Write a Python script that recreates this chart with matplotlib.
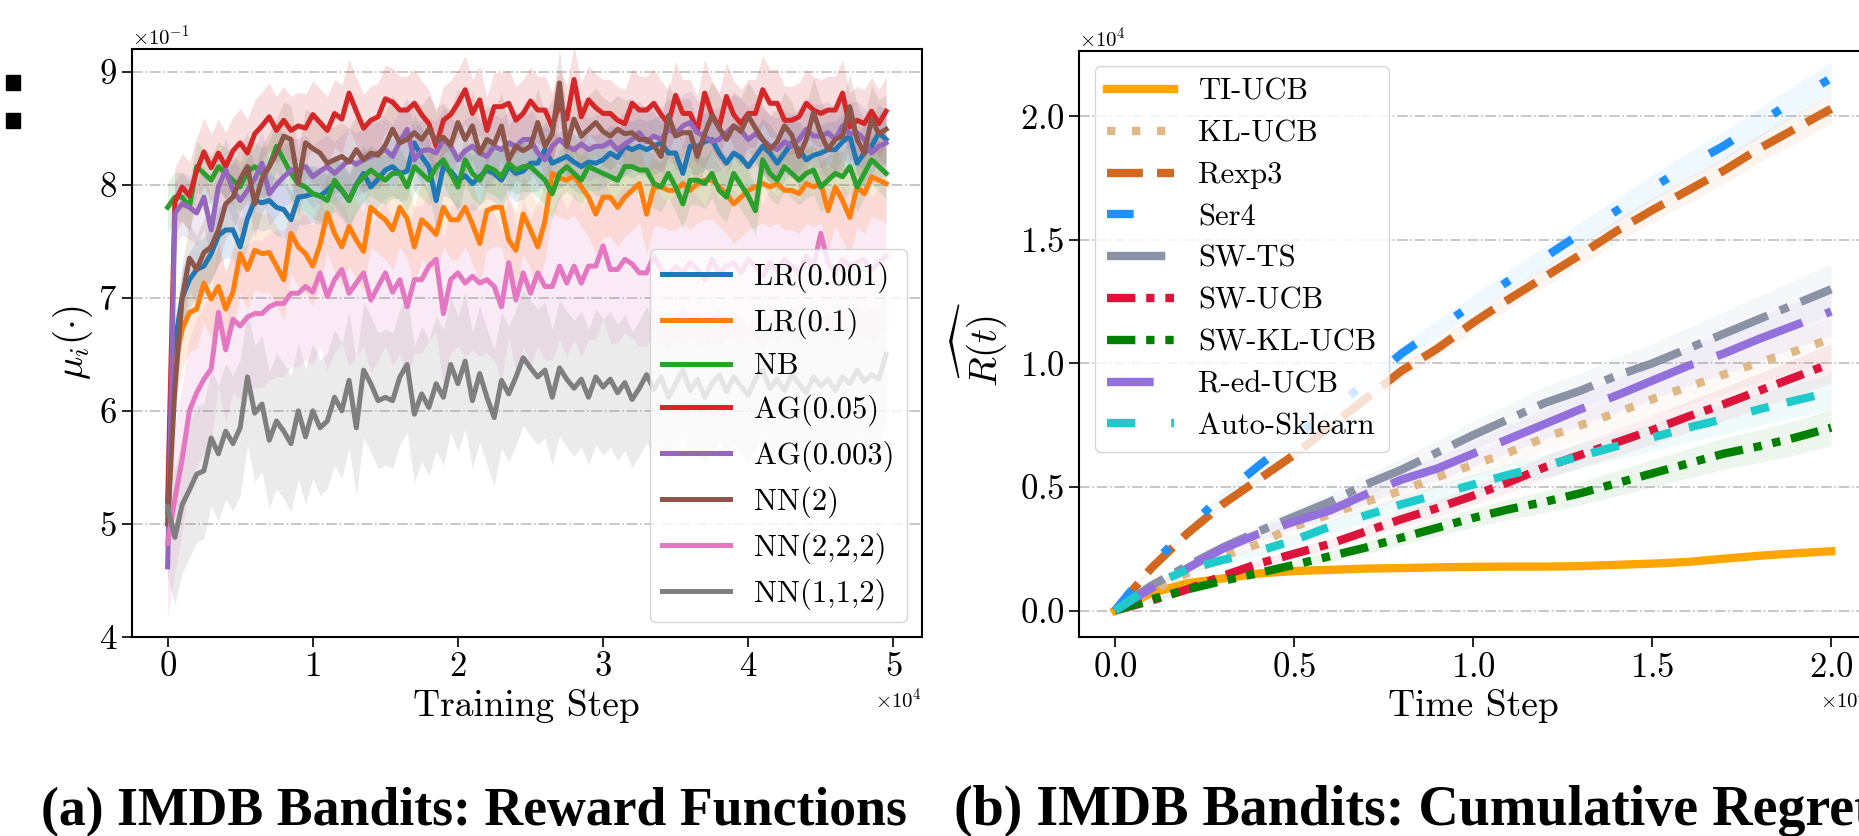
import matplotlib
matplotlib.use("Agg")
import matplotlib.pyplot as plt
from matplotlib.patches import Rectangle
import numpy as np

plt.rcParams["font.family"] = "serif"
plt.rcParams["font.serif"] = ["cmr10", "DejaVu Serif"]
plt.rcParams["mathtext.fontset"] = "cm"
plt.rcParams["axes.formatter.use_mathtext"] = True
plt.rcParams["axes.unicode_minus"] = False

# ---------------- (a) reward functions ----------------
train_steps = list(range(0, 50000, 500))

# mean reward per model, in units of 1e-3
lr_001 = [510, 660, 700, 716, 725, 728, 739, 755, 760, 760, 745, 770, 786, 784, 786, 780, 778, 769, 789, 790,
          792, 790, 795, 801, 795, 786, 800, 810, 798, 805, 813, 816, 810, 812, 837, 825, 816, 786, 816, 812,
          804, 808, 801, 807, 813, 810, 804, 816, 810, 812, 819, 819, 831, 819, 822, 825, 820, 816, 820, 819,
          822, 828, 824, 834, 831, 834, 831, 834, 837, 828, 828, 810, 834, 834, 838, 840, 828, 819, 828, 824,
          816, 825, 834, 828, 819, 828, 837, 831, 822, 826, 828, 831, 831, 838, 843, 819, 828, 834, 846, 840]
lr_01 = [500, 640, 672, 687, 690, 713, 699, 710, 690, 705, 739, 725, 742, 739, 740, 728, 716, 757, 745, 739,
         728, 747, 775, 757, 745, 763, 751, 741, 780, 774, 769, 760, 780, 770, 745, 769, 763, 756, 780, 769,
         769, 780, 765, 748, 777, 780, 780, 751, 742, 774, 760, 745, 768, 810, 806, 804, 808, 798, 789, 774,
         789, 789, 780, 789, 795, 801, 774, 798, 798, 795, 795, 801, 795, 801, 804, 804, 798, 792, 783, 789,
         795, 798, 801, 798, 801, 795, 795, 792, 801, 798, 801, 777, 798, 786, 771, 798, 792, 807, 804, 801]
nb = [780, 789, 789, 780, 816, 810, 804, 816, 810, 804, 798, 812, 816, 810, 816, 834, 822, 810, 801, 798,
      792, 790, 786, 804, 795, 786, 800, 807, 813, 808, 804, 810, 810, 798, 816, 810, 804, 816, 822, 810,
      798, 822, 810, 804, 816, 813, 807, 819, 813, 816, 816, 810, 804, 792, 810, 816, 810, 804, 816, 813,
      810, 807, 804, 816, 816, 813, 813, 801, 798, 810, 798, 783, 804, 804, 801, 810, 795, 789, 810, 800,
      790, 777, 822, 810, 804, 816, 810, 804, 810, 813, 798, 804, 810, 807, 816, 798, 810, 822, 816, 810]
ag_005 = [520, 785, 798, 790, 812, 829, 815, 828, 816, 830, 837, 828, 845, 852, 860, 848, 857, 848, 852, 850,
          862, 855, 848, 863, 858, 881, 865, 850, 857, 860, 876, 873, 866, 866, 872, 862, 854, 834, 857, 862,
          872, 884, 863, 875, 848, 869, 869, 872, 857, 863, 874, 866, 866, 851, 872, 858, 893, 860, 875, 868,
          863, 863, 857, 854, 872, 866, 866, 872, 862, 854, 879, 863, 863, 848, 881, 862, 851, 878, 862, 854,
          863, 863, 884, 872, 872, 857, 857, 860, 872, 866, 863, 866, 866, 881, 851, 857, 854, 865, 854, 865]
ag_0003 = [462, 775, 783, 780, 775, 789, 760, 798, 813, 795, 786, 795, 805, 819, 792, 800, 807, 813, 813, 816,
           807, 812, 816, 810, 816, 822, 818, 822, 825, 828, 831, 825, 838, 849, 822, 830, 831, 828, 840, 834,
           822, 830, 834, 828, 825, 834, 831, 837, 834, 840, 840, 828, 822, 834, 840, 834, 831, 836, 831, 834,
           834, 838, 831, 836, 840, 846, 838, 843, 840, 849, 845, 852, 855, 846, 843, 838, 840, 846, 852, 848,
           840, 845, 840, 834, 831, 838, 834, 840, 849, 843, 843, 846, 840, 852, 845, 846, 840, 828, 834, 837]
nn_2 = [500, 620, 700, 735, 725, 740, 745, 760, 783, 789, 805, 816, 783, 805, 816, 828, 843, 840, 801, 837,
        832, 828, 819, 822, 825, 820, 831, 822, 828, 826, 835, 849, 837, 840, 846, 840, 849, 838, 842, 835,
        855, 840, 852, 828, 840, 836, 852, 822, 834, 830, 834, 855, 834, 845, 890, 834, 858, 843, 849, 855,
        847, 843, 849, 845, 846, 840, 840, 835, 825, 861, 843, 846, 846, 825, 845, 861, 850, 840, 852, 847,
        861, 850, 840, 831, 838, 852, 844, 825, 840, 864, 845, 831, 840, 843, 869, 840, 828, 858, 845, 849]
nn_222 = [483, 522, 557, 600, 616, 628, 637, 687, 654, 681, 675, 683, 686, 686, 692, 695, 695, 704, 704, 710,
          705, 722, 701, 716, 725, 704, 713, 722, 698, 710, 722, 705, 716, 692, 716, 716, 728, 734, 686, 716,
          722, 713, 719, 713, 716, 710, 692, 731, 698, 722, 704, 722, 710, 710, 728, 713, 728, 713, 728, 728,
          746, 725, 725, 734, 730, 722, 722, 737, 725, 719, 728, 722, 731, 725, 716, 734, 722, 728, 731, 722,
          734, 728, 719, 731, 725, 734, 728, 722, 737, 728, 757, 731, 722, 734, 728, 731, 734, 725, 731, 737]
nn_112 = [515, 488, 517, 530, 544, 547, 576, 562, 582, 571, 585, 630, 598, 606, 574, 591, 582, 571, 600, 577,
          600, 585, 591, 612, 600, 627, 585, 636, 624, 609, 612, 609, 630, 641, 597, 615, 603, 624, 612, 641,
          624, 644, 609, 633, 612, 594, 627, 615, 630, 647, 638, 630, 636, 612, 638, 628, 620, 628, 612, 630,
          621, 628, 616, 625, 610, 620, 632, 619, 630, 612, 624, 636, 618, 628, 612, 624, 632, 617, 630, 622,
          614, 628, 636, 620, 628, 618, 632, 624, 616, 630, 622, 628, 618, 630, 624, 636, 626, 632, 628, 650]

reward_labels = ["LR(0.001)", "LR(0.1)", "NB", "AG(0.05)", "AG(0.003)", "NN(2)", "NN(2,2,2)", "NN(1,1,2)"]
reward_series = [lr_001, lr_01, nb, ag_005, ag_0003, nn_2, nn_222, nn_112]
reward_std = [25, 35, 22, 30, 28, 30, 65, 60]
reward_colors = ["tab:blue", "tab:orange", "tab:green", "tab:red",
                 "tab:purple", "tab:brown", "tab:pink", "tab:gray"]

# ---------------- (b) cumulative regret ----------------
time_steps = list(range(0, 20001, 1000))

# cumulative regret, in units of 1e4
ti_ucb = [0, 0.07, 0.11, 0.13, 0.15, 0.16, 0.165, 0.17, 0.172, 0.175, 0.177, 0.178, 0.178, 0.18, 0.185,
          0.19, 0.197, 0.21, 0.222, 0.232, 0.24]
kl_ucb = [0, 0.08, 0.15, 0.22, 0.27, 0.34, 0.39, 0.44, 0.485, 0.54, 0.59, 0.64, 0.70, 0.75, 0.80,
          0.855, 0.905, 0.955, 1.005, 1.05, 1.10]
rexp3 = [0, 0.17, 0.31, 0.43, 0.53, 0.63, 0.745, 0.857, 0.97, 1.06, 1.165, 1.26, 1.35, 1.44, 1.535,
         1.62, 1.70, 1.78, 1.87, 1.95, 2.03]
ser4 = [0, 0.18, 0.33, 0.466, 0.585, 0.70, 0.81, 0.92, 1.04, 1.14, 1.24, 1.335, 1.43, 1.525, 1.617,
        1.71, 1.80, 1.88, 1.975, 2.065, 2.155]
sw_ts = [0, 0.10, 0.18, 0.255, 0.32, 0.38, 0.44, 0.51, 0.57, 0.64, 0.71, 0.775, 0.84, 0.89, 0.95,
         1.00, 1.06, 1.12, 1.18, 1.24, 1.30]
sw_ucb = [0, 0.04, 0.085, 0.14, 0.19, 0.23, 0.27, 0.32, 0.37, 0.415, 0.465, 0.52, 0.58, 0.63, 0.68,
          0.73, 0.785, 0.835, 0.89, 0.945, 1.0]
sw_kl_ucb = [0, 0.045, 0.085, 0.12, 0.152, 0.185, 0.22, 0.255, 0.295, 0.335, 0.375, 0.41, 0.44, 0.475,
             0.515, 0.555, 0.595, 0.635, 0.665, 0.70, 0.74]
red_ucb = [0, 0.09, 0.17, 0.25, 0.31, 0.36, 0.405, 0.47, 0.53, 0.575, 0.635, 0.695, 0.755, 0.815, 0.87,
           0.93, 0.99, 1.04, 1.10, 1.155, 1.21]
auto_sklearn = [0, 0.10, 0.165, 0.205, 0.24, 0.285, 0.34, 0.385, 0.43, 0.47, 0.51, 0.55, 0.585, 0.625,
                0.665, 0.70, 0.74, 0.775, 0.815, 0.85, 0.885]

regret_labels = ["TI-UCB", "KL-UCB", "Rexp3", "Ser4", "SW-TS", "SW-UCB", "SW-KL-UCB", "R-ed-UCB", "Auto-Sklearn"]
regret_series = [ti_ucb, kl_ucb, rexp3, ser4, sw_ts, sw_ucb, sw_kl_ucb, red_ucb, auto_sklearn]
regret_colors = ["#FFA500", "#DEB887", "#D2691E", "#1E90FF", "#8A92A6",
                 "#DC143C", "#008000", "#9370DB", "#1FCACA"]
regret_styles = ["-", (0, (1, 2)), (0, (4.3, 1.7)), (0, (3.2, 5.8, 1, 5.8, 1, 5.8)),
                 (0, (7, 1.6, 1.1, 1.6)), (0, (3.4, 1.3, 1, 1.3)),
                 (0, (3.4, 1.3, 1, 1.3, 1, 1.3)), (5.4, (11, 3)), (0, (3.4, 4.3, 2.2, 2.2))]
regret_band = [0.03, 0.08, 0.03, 0.03, 0.08, 0.08, 0.1, 0.08, 0.08]

W, H = 1859, 836
fig = plt.figure(figsize=(W / 100, H / 100), dpi=100)

# panel (a)
ax1 = fig.add_axes([131.7 / W, 199 / H, (922 - 131.7) / W, (637 - 49) / H])
x1 = np.array(train_steps)
for vals, sd, col, lab in zip(reward_series, reward_std, reward_colors, reward_labels):
    m = np.array(vals) / 1000
    ax1.fill_between(x1, m - sd / 1000, m + sd / 1000, color=col, alpha=0.15, lw=0)
    ax1.plot(x1, m, color=col, lw=3.6, label=lab)
ax1.set_ylim(0.4, 0.92)
ax1.ticklabel_format(style="sci", axis="both", scilimits=(0, 0), useMathText=True)
ax1.grid(axis="y", linestyle="-.", color="gray", alpha=0.5, lw=1.2)
ax1.set_xlabel("Training Step", fontsize=27, labelpad=4)
ax1.set_ylabel(r"$\mu_i(\cdot)$", fontsize=28, labelpad=2)
ax1.tick_params(labelsize=25, length=7, width=1.2)
ax1.xaxis.get_offset_text().set_fontsize(15)
ax1.yaxis.get_offset_text().set_fontsize(15)
ax1.legend(loc="lower right", fontsize=22, handlelength=2.2, labelspacing=0.47, borderaxespad=0.5)

# panel (b)
ax2 = fig.add_axes([1079.3 / W, 198.7 / H, (1867 - 1079.3) / W, (637.3 - 50.7) / H])
x2 = np.array(time_steps)
for vals, col, ls, bw, lab in zip(regret_series, regret_colors, regret_styles, regret_band, regret_labels):
    m = np.array(vals) * 1e4
    ax2.fill_between(x2, m * (1 - bw), m * (1 + bw), color=col, alpha=0.07, lw=0)
    ax2.plot(x2, m, color=col, lw=6, linestyle=ls, label=lab)
ax2.set_xlim(-1000, 21000)
ax2.set_ylim(-0.108e4, 2.265e4)
ax2.ticklabel_format(style="sci", axis="both", scilimits=(0, 0), useMathText=True)
ax2.grid(axis="y", linestyle="-.", color="gray", alpha=0.5, lw=1.2)
ax2.set_xlabel("Time Step", fontsize=27, labelpad=4)
ax2.set_ylabel(r"$\widehat{R(t)}$", fontsize=28, labelpad=8)
ax2.tick_params(labelsize=25, length=7, width=1.2)
ax2.xaxis.get_offset_text().set_fontsize(15)
ax2.yaxis.get_offset_text().set_fontsize(15)
ax2.legend(loc="upper left", fontsize=22, handlelength=2.2, labelspacing=0.47, borderaxespad=0.5)

for ax in (ax1, ax2):
    for s in ax.spines.values():
        s.set_linewidth(1.5)

# captions, sized to span the same widths as in the paper
cap_a = fig.text(41 / W, 11 / H, "(a) IMDB Bandits: Reward Functions", fontsize=34,
                 fontweight="bold", family="Liberation Serif", va="baseline")
cap_b = fig.text(954 / W, 11 / H, "(b) IMDB Bandits: Cumulative Regret", fontsize=34,
                 fontweight="bold", family="Liberation Serif", va="baseline")
fig.canvas.draw()
rend = fig.canvas.get_renderer()
cap_a.set_fontsize(34 * 866 / cap_a.get_window_extent(rend).width)
cap_b.set_fontsize(34 * 918 / cap_b.get_window_extent(rend).width)

# two stray bullet squares at the left margin
for y0 in (746, 708):
    fig.add_artist(Rectangle((6 / W, y0 / H), 14 / W, 15 / H, transform=fig.transFigure,
                             color="black"))

fig.savefig("out.png", dpi=100)
